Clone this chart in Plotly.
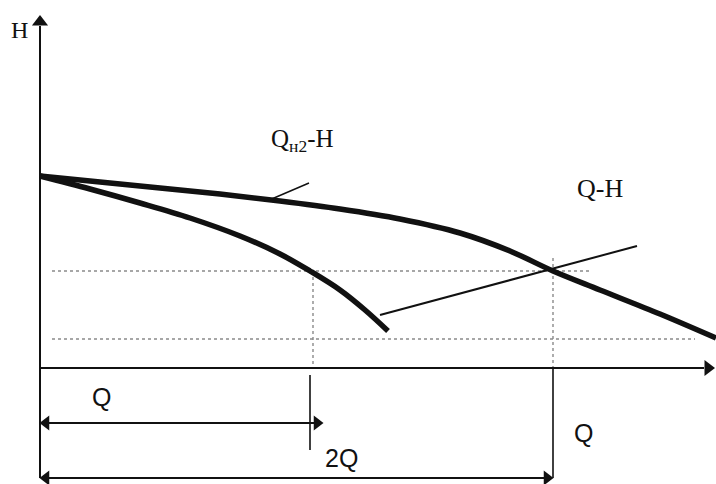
import plotly.graph_objects as go

# ---- data (sketch units; origin at the axes' crossing) ----
# combined curve  Q_н2-H  (flatter, reaches 2Q)
q_comb = [0, 60, 120, 180, 240, 300, 360, 420, 470, 513, 560, 620, 676]
h_comb = [192, 186, 180, 174, 167, 159, 149, 135, 117, 97, 78, 54, 30]
# single pump curve  Q-H  (steeper)
q_single = [0, 50, 100, 150, 200, 240, 270, 300, 325, 348]
h_single = [192, 179, 165, 150, 132, 114, 97, 78, 58, 37]
# thin line (system characteristic / leader)
q_pipe = [340, 597]
h_pipe = [53, 122]
# leader to the Q_н2-H label
q_lead = [227, 269]
h_lead = [167, 185]
# operating points
q_one = 273        # Q
q_two = 513        # 2Q
h_high = 97        # upper dotted level
h_low = 29         # lower dotted level
# axis extents
x_min, x_max = -40, 676
y_min, y_max = -116, 368
x_axis_end = 668
y_axis_top = 346
y_axis_bottom = -110
arrow1_y = -55
arrow2_y = -110

ink = "#111111"
dot = "#8a8a8a"
serif = "Liberation Serif"
sans = "Liberation Sans"

fig = go.Figure()

def line(x, y, w, color=ink, dash=None, shape="linear"):
    fig.add_trace(go.Scatter(x=x, y=y, mode="lines",
                             line=dict(color=color, width=w, dash=dash, shape=shape),
                             hoverinfo="skip"))

def head(x, y, sym, size=13):
    fig.add_trace(go.Scatter(x=[x], y=[y], mode="markers",
                             marker=dict(symbol=sym, size=size, color=ink,
                                         line=dict(width=0)),
                             hoverinfo="skip"))

# dotted guides
line([12, 550], [h_high, h_high], 1.4, dot, "dot")
line([12, 655], [h_low, h_low], 1.4, dot, "dot")
line([q_one, q_one], [91, 3], 1.4, dot, "dot")
line([q_two, q_two], [110, 0], 1.4, dot, "dot")

# axes
line([0, 0], [y_axis_bottom, y_axis_top - 4], 2)
head(0, y_axis_top, "triangle-up", 14)
line([0, x_axis_end - 4], [0, 0], 2)
head(x_axis_end, 0, "triangle-right", 14)

# curves
line(q_comb, h_comb, 5.5, shape="spline")
line(q_single, h_single, 5.5, shape="spline")
line(q_pipe, h_pipe, 2)
line(q_lead, h_lead, 1.5)

# dimension lines below the axis
line([q_one - 3, q_one - 3], [-7, -82], 1.6)
line([6, q_one + 6], [arrow1_y, arrow1_y], 2)
head(6, arrow1_y, "triangle-left", 13)
head(q_one + 4, arrow1_y, "triangle-right", 13)
line([q_two, q_two], [0, arrow2_y], 1.6)
line([6, q_two - 6], [arrow2_y, arrow2_y], 2)
head(6, arrow2_y, "triangle-left", 13)
head(q_two - 6, arrow2_y, "triangle-right", 13)

# labels
def label(x, y, text, fam=serif, size=25, xanchor="center"):
    fig.add_annotation(x=x, y=y, text=text, showarrow=False,
                       xanchor=xanchor, yanchor="middle",
                       font=dict(family=fam, size=size, color=ink))

label(-21, 338, "H", serif, 24)
label(229, 228, "Q<sub>н2</sub>-H", serif, 25, "left")
label(560, 180, "Q-H", serif, 26)
label(61, -29, "Q", sans, 25)
label(301, -90, "2Q", sans, 25)
label(543, -65, "Q", sans, 25)

fig.update_layout(
    width=716, height=484,
    margin=dict(l=0, r=0, t=0, b=0),
    paper_bgcolor="white", plot_bgcolor="white",
    showlegend=False,
    xaxis=dict(range=[x_min, x_max], visible=False, fixedrange=True),
    yaxis=dict(range=[y_min, y_max], visible=False, fixedrange=True),
)

fig.write_html("out.html",
               config={"displayModeBar": False},
               post_script="document.body.style.margin='0';"
                           "document.body.style.overflow='hidden';")
